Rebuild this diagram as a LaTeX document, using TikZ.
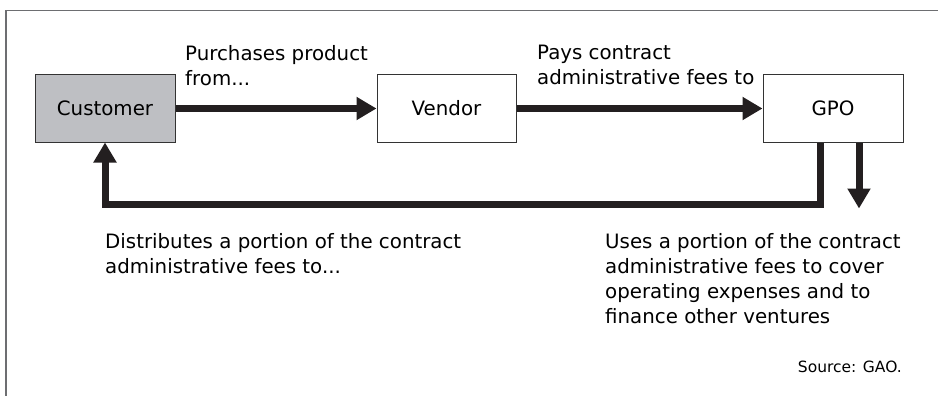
\documentclass[tikz,border=0pt]{standalone}
\usepackage{fontspec}
\setmainfont{DejaVu Sans}
\usetikzlibrary{arrows.meta}
\definecolor{ink}{HTML}{231F20}
\definecolor{rim}{HTML}{333333}
\definecolor{custgray}{HTML}{BEBFC3}
\definecolor{framegray}{HTML}{6D6E71}
\begin{document}
\begin{tikzpicture}[x=1pt,y=-1pt]
        \tikzstyle{every node}+=[inner sep=0pt, font=\fontsize{19.8}{25}\selectfont]
        \tikzstyle{party}=[draw=rim, line width=1pt, minimum width=140pt, minimum height=67pt]
        \tikzstyle{flow}=[ink, line width=7pt, -{Triangle[length=20pt,width=22pt]}]
        \tikzstyle{note}=[anchor=north west, align=left]
        \useasboundingbox (0,0) rectangle (938,396);
        \draw [framegray, line width=1.5pt] (6,396) -- (6,10.5) -- (938,10.5);
        \node [party, fill=custgray] (cust) at (105,108.5) {Customer};
        \node [party, minimum width=139pt] (vend) at (446.5,108.5) {Vendor};
        \node [party] (gpo) at (833,108.5) {GPO};
        \coordinate (feeout) at ([xshift=26pt,yshift=-66pt]gpo.south);
        \draw [flow] (cust.east) -- (vend.west);
        \draw [flow] (vend.east) -- (gpo.west);
        \draw [flow] ([xshift=-13pt]gpo.south) |- ([yshift=-62pt]cust.south) -- (cust.south);
        \draw [flow] ([xshift=26pt]gpo.south) -- (feeout);
        \node [note] (buylbl) at (185,45) {Purchases product\\from...};
        \node [note] (paylbl) at (537,45) {Pays contract\\administrative fees to};
        \node [note] (sharelbl) at (105,233) {Distributes a portion of the contract\\administrative fees to...};
        \node [note] (uselbl) at (605,233) {Uses a portion of the contract\\administrative fees to cover\\operating expenses and to\\finance other ventures};
        \node [anchor=base east, font=\fontsize{15.5}{18}\selectfont] (srclbl) at (902,372) {Source: GAO.};
\end{tikzpicture}
\end{document}
